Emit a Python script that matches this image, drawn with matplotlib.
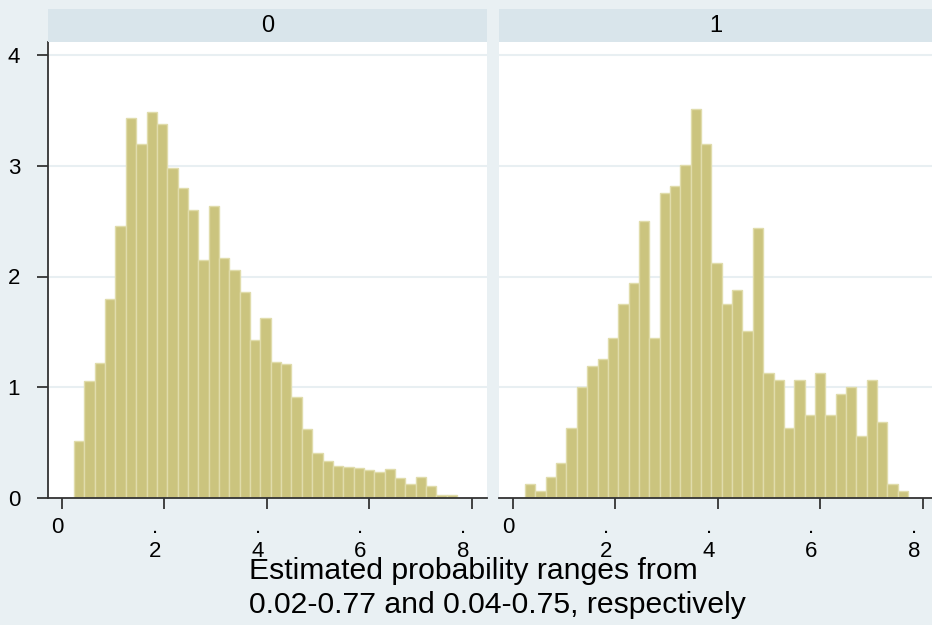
import numpy as np
import matplotlib
matplotlib.use("Agg")
import matplotlib.pyplot as plt
from matplotlib.patches import Rectangle
from matplotlib.transforms import ScaledTranslation

plt.rcParams['font.family'] = ['Liberation Sans', 'DejaVu Sans']

# ---- data (density per bin) ----
bin_lo, bin_hi, n_bins = 0.0235, 0.771, 37
density_0 = [0.517, 1.059, 1.216, 1.794, 2.459, 3.428, 3.193, 3.482, 3.374, 2.977,
             2.796, 2.603, 2.152, 2.640, 2.164, 2.056, 1.863, 1.424, 1.622, 1.231,
             1.207, 0.915, 0.623, 0.406, 0.331, 0.292, 0.280, 0.271, 0.250, 0.238,
             0.259, 0.181, 0.123, 0.193, 0.105, 0.024, 0.024]
density_1 = [0.123, 0.066, 0.187, 0.313, 0.629, 1.005, 1.192, 1.252, 1.442, 1.752,
             1.938, 2.498, 1.442, 2.754, 2.817, 3.004, 3.510, 3.193, 2.125, 1.752,
             1.878, 1.505, 2.441, 1.126, 1.065, 0.629, 1.065, 0.749, 1.126, 0.749,
             0.939, 1.005, 0.563, 1.065, 0.689, 0.123, 0.066]
panel_titles = ["0", "1"]
x_ticks = [0, 0.2, 0.4, 0.6, 0.8]
x_ticklabels = ["0", ".\n2", ".\n4", ".\n6", ".\n8"]
y_ticks = [0, 1, 2, 3, 4]
caption = "Estimated probability ranges from\n0.02-0.77 and 0.04-0.75, respectively"

BG = '#e9f0f3'
STRIP = '#d9e5eb'
GRID = '#e8eff2'
BAR = '#cbc47e'
BAR_EDGE = '#e0dcab'
AX = '#333333'

W, H = 932, 625
fig = plt.figure(figsize=(W / 100, H / 100), dpi=100, facecolor=BG)

def fx(px):
    return px / W

def fy(py):
    return 1 - py / H

edges = np.linspace(bin_lo, bin_hi, n_bins + 1)
widths = np.diff(edges)

panels = [(48, 487), (499, 932)]
top_px, bot_px, strip_top = 42, 498, 9
xlim = (-0.0273, 0.829)
ylim = (0, (bot_px - top_px) / 110.75)

for i, ((l, r), dens, title) in enumerate(zip(panels, [density_0, density_1], panel_titles)):
    ax = fig.add_axes([fx(l), fy(bot_px), (r - l) / W, (bot_px - top_px) / H])
    ax.set_facecolor('white')
    ax.set_xlim(xlim[0], xlim[0] + (r - l) / 512.5)
    ax.set_ylim(*ylim)
    for y in [1, 2, 3, 4]:
        ax.axhline(y, color=GRID, lw=1.5, zorder=0)
    ax.bar(edges[:-1], dens, width=widths, align='edge', color=BAR,
           edgecolor=BAR_EDGE, linewidth=1.0, zorder=2)
    for s in ['top', 'right']:
        ax.spines[s].set_visible(False)
    ax.spines['bottom'].set_color(AX)
    ax.spines['bottom'].set_linewidth(1.3)
    ax.spines['bottom'].set_zorder(3)
    ax.set_xticks(x_ticks)
    ax.set_xticklabels(x_ticklabels, fontsize=16, linespacing=1.15, va='top')
    ax.tick_params(axis='x', length=8, width=1.3, color=AX, pad=6)
    for lab, t in zip(ax.get_xticklabels(), x_ticklabels):
        dx = -5 if t == "0" else -9
        lab.set_transform(lab.get_transform() + ScaledTranslation(dx / 100, 0, fig.dpi_scale_trans))
    if i == 0:
        ax.spines['left'].set_color(AX)
        ax.spines['left'].set_linewidth(1.3)
        ax.set_yticks(y_ticks)
        ax.set_yticklabels([str(v) for v in y_ticks], fontsize=16)
        ax.tick_params(axis='y', length=8, width=1.3, color=AX, pad=12)
    else:
        ax.spines['left'].set_visible(False)
        ax.set_yticks([])
    # strip
    fig.patches.append(Rectangle((fx(l), fy(top_px)), (r - l) / W, (top_px - strip_top) / H,
                                 transform=fig.transFigure, facecolor=STRIP, edgecolor='none'))
    fig.text(fx((l + r) / 2), fy((top_px + strip_top) / 2 + 1), title, ha='center', va='center',
             fontsize=17, color='black')

fig.text(fx(249), fy(588), caption, ha='left', va='center', fontsize=21.7, linespacing=1.3)

fig.savefig('out.png', dpi=100, facecolor=BG)
